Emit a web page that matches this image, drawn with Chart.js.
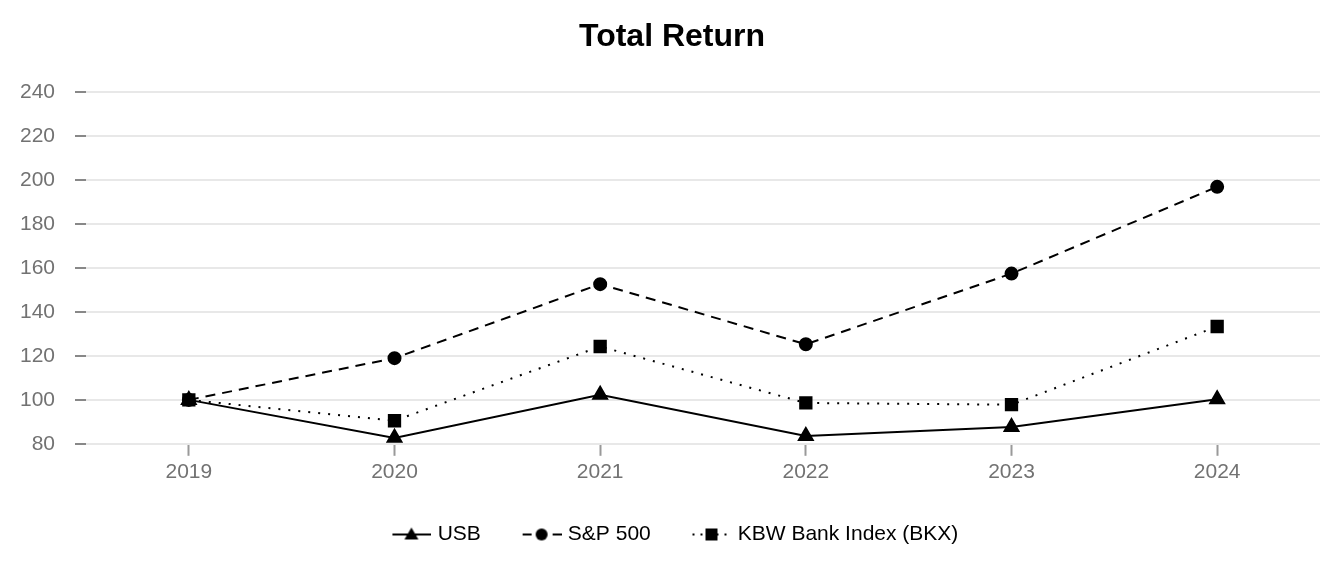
<!DOCTYPE html>
<html>
<head>
<meta charset="utf-8">
<script src="https://cdn.jsdelivr.net/npm/chart.js@4.4.0/dist/chart.umd.min.js"></script>
<style>
  html, body { margin: 0; padding: 0; background: #fff; }
  #wrap { width: 1344px; height: 576px; }
</style>
</head>
<body>
<div id="wrap"><canvas id="myChart"></canvas></div>
<script>
const years = ['2019', '2020', '2021', '2022', '2023', '2024'];
const usbValues = [100, 82.7, 102.3, 83.6, 87.7, 100.3];
const spValues = [100, 119, 152.7, 125.3, 157.5, 197];
const bkxValues = [100, 90.5, 124.3, 98.6, 97.8, 133.4];
const yTicks = { min: 80, max: 240, step: 20 };

const fontFamily = "'Liberation Sans', Arial, sans-serif";
const textGrey = '#727272';

// legend icons: line + marker, drawn on the right part of a wider canvas
function legendIcon(dash, marker) {
  const c = document.createElement('canvas');
  c.width = 50; c.height = 18;
  const ctx = c.getContext('2d');
  const x0 = 10;
  ctx.strokeStyle = '#000';
  ctx.fillStyle = '#000';
  ctx.lineWidth = 2;
  ctx.setLineDash(dash);
  ctx.beginPath();
  ctx.moveTo(x0 + 1, 9); ctx.lineTo(x0 + 40, 9);
  ctx.stroke();
  ctx.setLineDash([]);
  ctx.beginPath();
  const cx = x0 + 20;
  if (marker === 'triangle') {
    ctx.moveTo(cx, 2); ctx.lineTo(cx + 7, 14); ctx.lineTo(cx - 7, 14); ctx.closePath();
  } else if (marker === 'circle') {
    ctx.arc(cx, 9, 6, 0, Math.PI * 2);
  } else {
    ctx.rect(cx - 6, 3, 12, 12);
  }
  ctx.fill();
  return c;
}

const icons = [
  legendIcon([], 'triangle'),
  legendIcon([9, 6], 'circle'),
  legendIcon([2, 6], 'rect')
];

const ctx = document.getElementById('myChart').getContext('2d');
const myChart = new Chart(ctx, {
  type: 'line',
  data: {
    labels: years,
    datasets: [{
      label: 'USB',
      data: usbValues,
      borderColor: '#000',
      backgroundColor: '#000',
      borderWidth: 2,
      pointStyle: 'triangle',
      pointRadius: 8,
      pointHoverRadius: 8,
      lineTension: 0
    }, {
      label: 'S&P 500',
      data: spValues,
      borderColor: '#000',
      backgroundColor: '#000',
      borderWidth: 2,
      borderDash: [10, 7],
      pointStyle: 'circle',
      pointRadius: 6,
      pointHoverRadius: 6,
      lineTension: 0
    }, {
      label: 'KBW Bank Index (BKX)',
      data: bkxValues,
      borderColor: '#000',
      backgroundColor: '#000',
      borderWidth: 2,
      borderDash: [2, 8],
      pointStyle: 'rect',
      pointRadius: 8,
      pointHoverRadius: 8,
      lineTension: 0
    }]
  },
  options: {
    responsive: true,
    maintainAspectRatio: false,
    animation: false,
    layout: { padding: { left: 0, right: 0, top: 0, bottom: 21 } },
    plugins: {
      title: {
        display: true,
        text: 'Total Return',
        color: '#000',
        font: { family: fontFamily, size: 32, weight: 'bold' },
        padding: { top: 18, bottom: 36 }
      },
      legend: {
        position: 'bottom',
        labels: {
          usePointStyle: true,
          pointStyleWidth: 41.5,
          color: textGrey,
          padding: 35,
          font: { family: fontFamily, size: 21 },
          generateLabels: (chart) => chart.data.datasets.map((ds, i) => ({
            text: ds.label,
            pointStyle: icons[i],
            fillStyle: '#000',
            strokeStyle: '#000',
            lineWidth: 0,
            datasetIndex: i,
            hidden: false
          }))
        }
      },
      tooltip: { enabled: false }
    },
    scales: {
      x: {
        offset: true,
        border: { display: false },
        grid: {
          display: true,
          drawOnChartArea: false,
          drawTicks: true,
          tickLength: 12,
          tickColor: '#999',
          tickWidth: 2
        },
        ticks: {
          color: textGrey,
          padding: 4,
          font: { family: fontFamily, size: 21 }
        }
      },
      y: {
        min: yTicks.min,
        max: yTicks.max,
        border: { display: false },
        afterFit: (scale) => { scale.width = 86; },
        grid: {
          color: '#e8e8e8',
          lineWidth: 2,
          tickColor: '#888',
          tickLength: 11,
          tickWidth: 2
        },
        ticks: {
          stepSize: yTicks.step,
          color: textGrey,
          padding: 20,
          font: { family: fontFamily, size: 21 }
        }
      },
      // empty right-hand axis, only keeps a margin right of the plot
      yRight: {
        position: 'right',
        display: true,
        border: { display: false },
        grid: { drawOnChartArea: false, drawTicks: false },
        ticks: { display: false },
        afterFit: (scale) => { scale.width = 24; }
      }
    }
  }
});
</script>
</body>
</html>
